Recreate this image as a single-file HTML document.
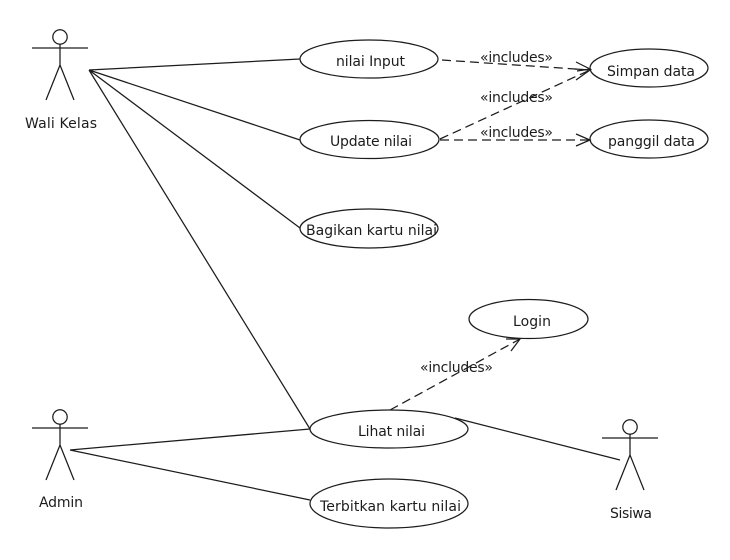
<!DOCTYPE html>
<html>
<head>
<meta charset="utf-8">
<style>
html,body{margin:0;padding:0;background:#fff;width:730px;height:560px;overflow:hidden}
svg{display:block}
text{font-family:"DejaVu Sans","Liberation Sans",sans-serif;font-size:14px;fill:#1c1c1c}
</style>
</head>
<body>
<svg width="730" height="560" viewBox="0 0 730 560" xmlns="http://www.w3.org/2000/svg">
<rect width="730" height="560" fill="#fff"/>
<g fill="none" stroke="#1c1c1c" stroke-width="1.25">
  <!-- actors -->
  <circle cx="60" cy="37" r="7.200"/>
  <path d="M32 48H88M60 44V65M60 65L46 100M60 65L74 100"/>
  <circle cx="60" cy="417" r="7.200"/>
  <path d="M32 428H88M60 424V445M60 445L46 480M60 445L74 480"/>
  <circle cx="630" cy="427" r="7.200"/>
  <path d="M602 438H658M630 434V455M630 455L616 490M630 455L644 490"/>
  <!-- ellipses -->
  <ellipse cx="369" cy="59" rx="69" ry="19"/>
  <ellipse cx="369.500" cy="139.500" rx="69.500" ry="19"/>
  <ellipse cx="369" cy="228.500" rx="69" ry="19.500"/>
  <ellipse cx="649" cy="68" rx="59" ry="19"/>
  <ellipse cx="649" cy="139" rx="59" ry="19"/>
  <ellipse cx="528.500" cy="319" rx="59.500" ry="19.500"/>
  <ellipse cx="389" cy="429" rx="79" ry="19"/>
  <ellipse cx="389" cy="503.500" rx="79" ry="24.500"/>
  <!-- associations -->
  <path d="M89 70L300 59M89 70L300 140M89 70L300 228M89 70L310 429"/>
  <path d="M70 450L310 429M70 450L310 500M455 418L620 460"/>
  <!-- includes -->
  <g stroke-dasharray="9 5">
    <path d="M442 60L590 70"/>
    <path d="M440 139L590 70"/>
    <path d="M440 140H590"/>
    <path d="M390 410L520 339"/>
  </g>
  <path d="M576 62L590 69L577 71"/>
  <path d="M576 80L590 70L575 69"/>
  <path d="M576 134L590 140L576 146"/>
  <path d="M506 339L520 339L511 351"/>
</g>
<text x="336" y="66" textLength="69" lengthAdjust="spacing">nilai Input</text>
<text x="330" y="146" textLength="82" lengthAdjust="spacing">Update nilai</text>
<text x="306" y="235" textLength="131" lengthAdjust="spacing">Bagikan kartu nilai</text>
<text x="607" y="76" textLength="88" lengthAdjust="spacing">Simpan data</text>
<text x="608" y="146" textLength="87" lengthAdjust="spacing">panggil data</text>
<text x="513" y="326" textLength="38" lengthAdjust="spacing">Login</text>
<text x="358" y="436" textLength="67" lengthAdjust="spacing">Lihat nilai</text>
<text x="320" y="511" textLength="141" lengthAdjust="spacing">Terbitkan kartu nilai</text>
<text x="480" y="62" textLength="73" lengthAdjust="spacing">«includes»</text>
<text x="480" y="102" textLength="73" lengthAdjust="spacing">«includes»</text>
<text x="480" y="137" textLength="73" lengthAdjust="spacing">«includes»</text>
<text x="420" y="372" textLength="73" lengthAdjust="spacing">«includes»</text>
<text x="25" y="128" textLength="72" lengthAdjust="spacing">Wali Kelas</text>
<text x="39" y="507" textLength="44" lengthAdjust="spacing">Admin</text>
<text x="610" y="518" textLength="42" lengthAdjust="spacing">Sisiwa</text>
</svg>
</body>
</html>
